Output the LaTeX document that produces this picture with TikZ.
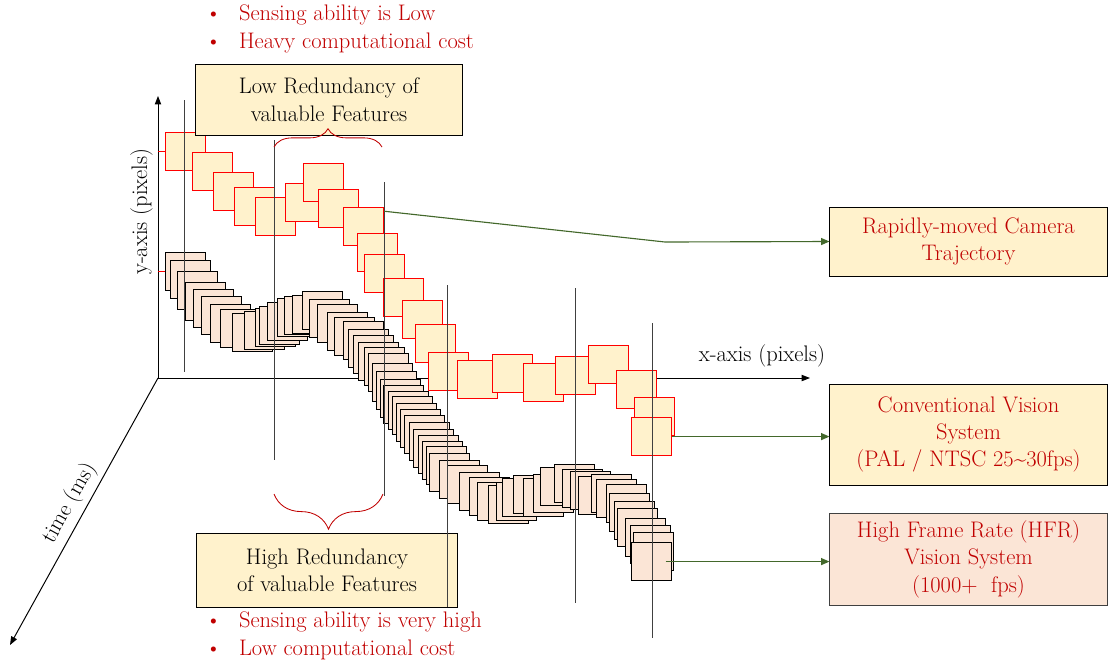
\documentclass[tikz,border=0pt]{standalone}
\usepackage{tikz}
\usetikzlibrary{arrows.meta,positioning,calc,decorations.pathreplacing}
\definecolor{hfrred}{HTML}{FF0000}
\definecolor{hfrtext}{HTML}{C00000}
\definecolor{hfryellow}{HTML}{FFF2CC}
\definecolor{hfrsalmon}{HTML}{FBE5D6}
\definecolor{hfrgreen}{HTML}{43682B}
\definecolor{hfrgray}{HTML}{404040}

\begin{document}
\begin{tikzpicture}[x=0.025cm, y=-0.025cm,
    conv/.style={draw=hfrred, fill=hfryellow, line width=0.8pt, minimum width=1cm, minimum height=0.95cm, inner sep=0pt, anchor=north west},
    hfr/.style={draw=black, fill=hfrsalmon, line width=0.8pt, minimum width=1cm, minimum height=0.95cm, inner sep=0pt, anchor=north west},
    note/.style={draw, fill=hfryellow, line width=0.7pt, font=\fontsize{16}{19.5}\selectfont, align=center, inner sep=1pt},
    axislabel/.style={font=\fontsize{16}{19.5}\selectfont},
    bullets/.style={text=hfrtext, font=\fontsize{16}{19.5}\selectfont, align=left, inner sep=0pt, anchor=west},
    axis/.style={-{Triangle[length=6pt,width=4.5pt]}, line width=0.7pt},
    link/.style={-{Triangle[length=6pt,width=5pt]}, line width=0.8pt, hfrgreen},
    guide/.style={hfrgray, line width=0.6pt},
    tail/.style={hfrred, line width=0.6pt},
    featbrace/.style={decorate, decoration={brace, amplitude=#1}, hfrtext, line width=0.6pt}
]
    \useasboundingbox (0,0) rectangle (1108,660);

    % Axes
    \coordinate (o) at (158,378);
    \coordinate (xend) at (810,378);
    \coordinate (yend) at (158,96);
    \coordinate (tend) at (10,645);
    \draw[axis] (o) -- (xend);
    \draw[axis] (o) -- node[sloped, above, pos=0.59, axislabel] (ylab) {y-axis (pixels)} (yend);
    \draw[axis] (o) -- node[sloped, above, pos=0.5, axislabel] (tlab) {time (ms)} (tend);
    \node[axislabel] (xlab) at (762,356) {x-axis (pixels)};

    % HFR frames
    \foreach \x/\y [count=\i] in {165/252, 170/260, 177/271, 185/282, 193/289, 201/296, 210/304, 220/309,
        232/313, 244/311, 255/308, 259/306, 267/302, 277/298, 284/296, 292/295, 302/291, 309/299,
        317/304, 327/312, 334/317, 343/321, 348/329, 353/335, 358/342, 364/347, 368/353, 372/363,
        376/371, 380/379, 383/385, 388/391, 392/396, 396/403, 400/409, 404/415, 409/422, 413/429,
        418/435, 422/441, 426/446, 429/453, 439/460, 447/465, 459/472, 469/477, 477/482, 488/485,
        496/482, 502/478, 513/475, 523/478, 533/474, 540/467, 554/464, 562/469, 570/471, 578/476,
        591/474, 596/479, 606/484, 609/493, 614/501, 617/508, 625/518, 630/525, 633/532, 631/542}
        \node[hfr] (h\i) at (\x,\y) {};

    % Conventional frames
    \foreach \x/\y [count=\i] in {165/132, 192/152, 213/172, 234/187, 255/197, 285/183, 303/163, 318/189,
        343/207, 357/233, 364/254, 383/278, 402/300, 415/324, 428/352, 457/360, 492/354, 523/363,
        555/356, 588/345, 616/370, 634/397, 631/417}
        \node[conv] (c\i) at (\x,\y) {};

    \draw[tail] (c1.west -| o) -- (c1.west);
    \draw[tail] (h1.west -| o) -- (h1.west);

    % Redundancy boxes
    \node[note, minimum width=6.65cm, minimum height=1.775cm] (lowbox) at (329,99.5) {Low Redundancy of\\valuable Features};
    \node[note, minimum width=6.5cm, minimum height=1.85cm] (highbox) at (327,570) {High Redundancy\\of valuable Features};

    % Sampling instants
    \foreach \x/\ya/\yb in {184/100/372, 274/140/460, 384/182/496, 447/285/607, 575/288/603, 652/323/638}
        \draw[guide] (\x,\ya) -- (\x,\yb);

    % Braces
    \draw[featbrace=13pt] (274,147) -- (382,147);
    \draw[featbrace=25pt] (383,494) -- (274,494);

    % Bullet notes
    \node[bullets] (lowpts) at (205,29) {\makebox[24pt][l]{\textbullet}Sensing ability is Low\\\makebox[24pt][l]{\textbullet}Heavy computational cost};
    \node[bullets] (highpts) at (205,636) {\makebox[24pt][l]{\textbullet}Sensing ability is very high\\\makebox[24pt][l]{\textbullet}Low computational cost};

    % System boxes
    \node[note, text=hfrtext, minimum width=6.925cm, minimum height=1.725cm] (traj) at (968.5,241.5) {Rapidly-moved Camera\\Trajectory};
    \node[note, text=hfrtext, minimum width=6.925cm, minimum height=2.525cm] (convsys) at (968.5,434.5) {Conventional Vision\\System\\(PAL / NTSC 25\textasciitilde30fps)};
    \node[note, text=hfrtext, fill=hfrsalmon, draw=hfrgray, minimum width=6.925cm, minimum height=2.3cm] (hfrsys) at (968.5,559) {High Frame Rate (HFR)\\Vision System\\(1000+\ \ fps)};

    % Connectors
    \coordinate (bend) at (665,242);
    \draw[link] ([yshift=-3pt]c9.north east) -- (bend) -- (traj.west);
    \draw[link] (c23.east) -- (c23.east -| convsys.west);
    \draw[link] ([xshift=10pt]h68.center) -- (h68.center -| hfrsys.west);
\end{tikzpicture}
\end{document}
